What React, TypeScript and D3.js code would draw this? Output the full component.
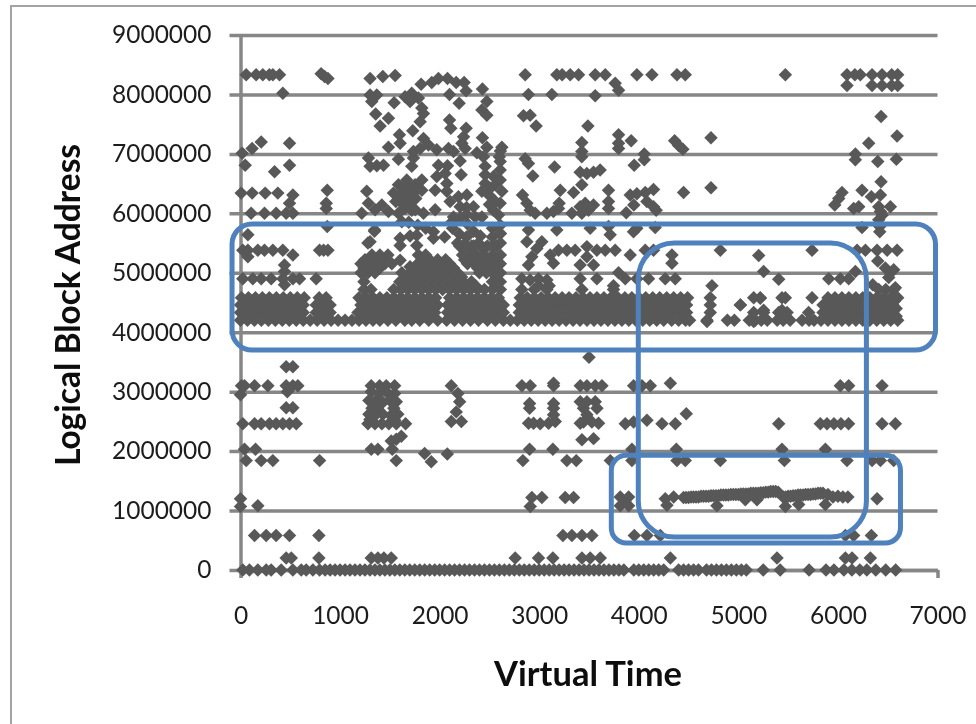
import React, { useEffect, useRef } from "react";
import * as d3 from "d3";

const yTicks = [0, 1, 2, 3, 4, 5, 6, 7, 8, 9].map(d => d * 1000000);
const xTicks = [0, 1000, 2000, 3000, 4000, 5000, 6000, 7000];

// repeated address levels, times
const at833 = [57, 157, 224, 290, 325, 392, 2859, 3177, 3230, 3311, 3395, 3562, 3663, 3981, 4132, 4383, 4467, 5472, 6091, 6170, 6225, 6343, 6443, 6540, 6600];
const at815 = [6091, 6343, 6443, 6540, 6600];
const at634 = [7, 117, 248, 375];
const at600 = [107, 241, 358, 459, 526];
const at538 = [23, 74, 174, 241, 325, 425, 794, 835, 878, 3194, 3278, 3361, 3579, 3663, 3763, 4065, 4148, 4819, 5740, 6192, 6276, 6393, 6494, 6594];
const at490 = [23, 124, 208, 308, 425, 526, 593, 760, 2825, 2993, 3411, 3579, 3864, 3981, 4098, 4266, 4366, 5907, 6024, 6108];
const at342 = [459, 526];
const at310 = [10, 40, 141, 275, 459, 526, 576, 1313, 1397, 1464, 1548, 2826, 2910, 3144, 3412, 3479, 3563, 3630, 3948, 4032, 4116, 6024, 6108, 6443];
const at273 = [459, 526];
const at246 = [23, 141, 208, 291, 358, 425, 492, 560, 1280, 1350, 1420, 1490, 1565, 1658, 3864, 4233, 4367, 5405, 5823, 5890, 5960, 6030, 6107, 6443, 6577];
const at203 = [40, 151, 1313, 1380, 2903, 3137, 3931, 4377, 5438, 5874];
const at184 = [57, 208, 325, 794, 1564, 2836, 3278, 3372, 3714, 3931, 4384, 4467, 4819, 5462, 6091, 6343, 6427, 6560];
const at058 = [141, 258, 358, 492, 787, 3238, 3328, 3429, 3529, 3955, 4082, 4216, 6075, 6158, 6336];
const at020 = [459, 510, 787, 1313, 1380, 1440, 1514, 2759, 2993, 3137, 3429, 3512, 3613, 4317, 5388, 6075, 6142, 6326];
const at000 = [23, 90, 174, 258, 308, 409, 526, 610, 660, 727, 794, 850, 900, 950, 1000, 1050, 1100, 1150, 1200, 1250, 1300, 1350, 1400, 1450, 1500, 1550, 1600, 1650, 1700, 1750, 1800, 1850, 1900, 1950, 2000, 2050, 2100, 2150, 2200, 2250, 2300, 2350, 2400, 2450, 2500, 2550, 2600, 2650, 2700, 2750, 2800, 2850, 2900, 2950, 3000, 3050, 3100, 3150, 3200, 3250, 3300, 3350, 3400, 3450, 3500, 3550, 3600, 3650, 3700, 3750, 3800, 3850, 3950, 4000, 4050, 4100, 4150, 4200, 4250, 4400, 4450, 4500, 4550, 4600, 4680, 4730, 4780, 4830, 4880, 4930, 4980, 5030, 5080, 5250, 5420, 5710, 5880, 5960, 6060, 6140, 6220, 6290, 6380, 6480, 6580];

// dense band just above 4000000
const at420 = [0, 70, 140, 210, 280, 350, 420, 490, 560, 630, 700, 770, 840, 910, 980, 1050, 1120, 1190, 1260, 1330, 1400, 1480, 1560, 1650, 1720, 1800, 1890, 1980, 2070, 2150, 2230, 2310, 2390, 2480, 2560, 2640, 2710, 2780, 2850, 2920, 2990, 3060, 3130, 3200, 3270, 3340, 3410, 3480, 3550, 3620, 3690, 3760, 3830, 3900, 3970, 4040, 4110, 4180, 4250, 4330, 4400, 4470, 4510, 4685, 4890, 4960, 5110, 5170, 5230, 5290, 5390, 5450, 5520, 5640, 5710, 5760, 5830, 5900, 5970, 6040, 6110, 6180, 6250, 6320, 6390, 6460, 6530, 6600];
const at433 = [0, 70, 140, 210, 280, 350, 420, 490, 560, 630, 760, 830, 900, 1180, 1250, 1320, 1390, 1460, 1530, 1600, 1670, 1740, 1810, 1880, 1950, 2080, 2150, 2220, 2290, 2360, 2430, 2500, 2570, 2640, 2800, 2870, 2940, 3010, 3080, 3150, 3220, 3290, 3360, 3430, 3500, 3570, 3640, 3710, 3780, 3850, 3920, 3990, 4060, 4130, 4200, 4270, 4340, 4410, 4480, 4718, 5154, 5254, 5405, 5490, 5706, 5850, 5920, 5990, 6060, 6130, 6200, 6270, 6340, 6410, 6480, 6550];
const at446 = [0, 70, 140, 210, 280, 350, 420, 490, 560, 630, 760, 830, 900, 1210, 1280, 1350, 1420, 1490, 1560, 1630, 1700, 1770, 1840, 1910, 1980, 2080, 2150, 2220, 2290, 2360, 2430, 2500, 2570, 2640, 2800, 2870, 2940, 3010, 3080, 3150, 3220, 3290, 3360, 3430, 3500, 3570, 3640, 3710, 3780, 3850, 3920, 3990, 4060, 4130, 4200, 4270, 4340, 4410, 4480, 4718, 5020, 5850, 5920, 5990, 6060, 6130, 6200, 6270, 6340, 6410, 6480, 6550];
const at458 = [10, 80, 150, 220, 290, 360, 430, 500, 570, 640, 790, 860, 1190, 1260, 1330, 1400, 1470, 1540, 1610, 1680, 1750, 1820, 1890, 1960, 2100, 2170, 2240, 2310, 2380, 2450, 2520, 2590, 2810, 2880, 2950, 3020, 3090, 3160, 3230, 3300, 3370, 3440, 3510, 3580, 3650, 3720, 3790, 3860, 3930, 4000, 4070, 4140, 4210, 4280, 4350, 4420, 4490, 4718, 5154, 5220, 5438, 5472, 5740, 5900, 5970, 6040, 6110, 6180, 6250, 6320, 6390, 6460, 6530, 6600];
const at427 = [35, 105, 175, 245, 315, 385, 455, 525, 595, 795, 865, 1215, 1285, 1355, 1425, 1495, 1565, 1635, 1705, 1775, 1845, 1915, 2115, 2185, 2255, 2325, 2395, 2465, 2535, 2605, 2835, 2905, 2975, 3045, 3115, 3185, 3255, 3325, 3395, 3465, 3535, 3605, 3675, 3745, 3815, 3885, 3955, 4025, 4095, 4165, 4235, 4305, 4375, 4445, 5885, 5955, 6025, 6095, 6165, 6235, 6305, 6375, 6445, 6515, 6585];
const at440 = [35, 105, 175, 245, 315, 385, 455, 525, 595, 795, 865, 1245, 1315, 1385, 1455, 1525, 1595, 1665, 1735, 1805, 1875, 1945, 2115, 2185, 2255, 2325, 2395, 2465, 2535, 2605, 2835, 2905, 2975, 3045, 3115, 3185, 3255, 3325, 3395, 3465, 3535, 3605, 3675, 3745, 3815, 3885, 3955, 4025, 4095, 4165, 4235, 4305, 4375, 4445, 5885, 5955, 6025, 6095, 6165, 6235, 6305, 6375, 6445, 6515, 6585];
const at452 = [45, 115, 185, 255, 325, 395, 465, 535, 605, 810, 1225, 1295, 1365, 1435, 1505, 1575, 1645, 1715, 1785, 1855, 1925, 2135, 2205, 2275, 2345, 2415, 2485, 2555, 2845, 2915, 2985, 3055, 3125, 3195, 3265, 3335, 3405, 3475, 3545, 3615, 3685, 3755, 3825, 3895, 3965, 4035, 4105, 4175, 4245, 4315, 4385, 4455, 5935, 6005, 6075, 6145, 6215, 6285, 6355, 6425, 6495, 6565];

// mound over the band around t = 2000
const at472 = [1240, 1310, 1540, 1610, 1680, 1750, 1820, 1890, 1960, 2030, 2100, 2170, 2240, 2310, 2380, 2450, 2530, 2610, 2825, 2950, 3077, 3430, 3746, 6410, 6480, 6560];
const at485 = [1240, 1600, 1680, 1760, 1840, 1920, 2000, 2080, 2160, 2240, 2320, 2530, 2610];
const at500 = [1210, 1280, 1350, 1620, 1700, 1780, 1860, 1940, 2020, 2100, 2180, 2400, 2470, 2530, 2610];
const at515 = [1210, 1290, 1370, 1450, 1520, 1780, 1860, 1940, 2020, 2100, 2280, 2350, 2420, 2530, 2610];
const at530 = [1320, 1400, 1480, 1787, 1860, 2230, 2300, 2370, 2440, 2530, 2610];
const at478 = [1640, 1720, 1800, 1880, 1960, 2040, 2120, 2200, 2280, 2360, 2570];
const at493 = [1660, 1740, 1820, 1900, 1980, 2060, 2140, 2220, 2570];
const at508 = [1240, 1320, 1400, 1740, 1820, 1900, 1980, 2060, 2140, 2380, 2450, 2570];
const at522 = [1250, 1350, 1440, 1820, 1900, 1980, 2060, 2250, 2320, 2390, 2460, 2570];
const at545 = [2200, 2270, 2340, 2410, 2480, 2570];

// points that do not sit on a row, [time, address in millions]
const scattered: [number, number][] = [
  [17, 7.01], [117, 7.09], [208, 7.2], [492, 7.18], [492, 6.81], [47, 6.81], [342, 6.7], [526, 6.31], [492, 6.17], [810, 8.35], [844, 8.3], [878, 8.27], [425, 8.02],
  [871, 6.39], [861, 6.17], [861, 6.08], [871, 5.78], [74, 5.64], [526, 5.3], [74, 5.27], [442, 5.13], [442, 5.02], [442, 4.8], [1347, 5.72], [1280, 5.5],
  [1301, 8.27], [1429, 8.3], [1553, 8.32], [1814, 8.17], [1921, 8.2], [1988, 8.27], [2079, 8.27], [2166, 8.2], [2246, 8.2], [2266, 8.06], [2430, 8.09], [2099, 8.0], [2196, 7.85],
  [1301, 7.99], [1369, 7.99], [1318, 7.88], [1543, 7.86], [1653, 7.96], [1720, 8.02], [1787, 7.94], [1703, 7.88], [1821, 7.77], [1837, 7.68], [1804, 7.54], [1358, 7.67], [1486, 7.6], [1402, 7.47], [2474, 7.88], [2424, 7.74], [2474, 7.65],
  [2099, 7.57], [2112, 7.43], [2266, 7.43], [1730, 7.39], [1596, 7.32], [1603, 7.18], [1486, 7.11], [1838, 7.26], [1888, 7.15], [1971, 7.07], [2089, 7.09], [2139, 7.04], [2240, 7.29], [2223, 7.18], [2256, 7.09], [2430, 7.27], [2474, 7.11], [2374, 7.02], [2625, 7.11], [2440, 6.95],
  [1285, 6.93], [1586, 6.91], [1737, 7.04], [1804, 7.09], [1737, 6.93], [1720, 6.79], [1301, 6.79], [1369, 6.8], [1436, 6.81], [2206, 6.88], [2216, 6.65], [1988, 6.81], [2079, 6.8], [1971, 6.62], [2055, 6.67], [2072, 6.5], [2072, 6.37],
  [2457, 6.79], [2457, 6.65], [2457, 6.5], [2608, 6.87], [2608, 6.73], [2541, 6.62], [2608, 6.56], [2508, 6.42], [2424, 6.37], [2625, 6.37], [2558, 6.48],
  [1670, 6.56], [1586, 6.48], [1754, 6.48], [1536, 6.34], [1636, 6.37], [1737, 6.34], [1821, 6.56], [1821, 6.39], [1955, 6.39], [1640, 6.45], [1700, 6.42], [1620, 6.28], [1690, 6.25], [1760, 6.25], [1560, 6.2], [1650, 6.08], [1720, 6.05],
  [1268, 6.37], [1285, 6.17], [1419, 6.14], [1352, 6.06], [1218, 6.0], [1486, 6.03], [1620, 6.17], [1586, 6.0], [1703, 6.17], [1754, 6.06], [1838, 6.0], [1955, 6.06], [2270, 6.1], [2270, 5.98], [2500, 6.3], [2500, 6.15], [2560, 6.2], [2540, 6.05],
  [2105, 6.2], [2189, 6.28], [2273, 6.31], [2340, 6.11], [2206, 6.11], [2139, 5.94], [2206, 5.92], [2357, 5.94], [2424, 5.94], [2608, 6.17], [2591, 5.97],
  [1301, 5.52], [1603, 5.58], [1603, 5.46], [1770, 5.63], [1770, 5.46], [1703, 5.62], [1620, 5.86], [1690, 5.85], [1938, 5.69], [1938, 5.58], [1860, 5.75], [1780, 5.8], [2130, 5.75], [2200, 5.65], [2270, 5.6], [2340, 5.7], [2410, 5.62], [2180, 5.5], [2250, 5.48], [2320, 5.45], [2390, 5.5], [2460, 5.42], [2530, 5.45], [2610, 5.5], [2530, 5.6], [2610, 5.66], [2530, 5.75], [2610, 5.8], [2120, 5.85], [2280, 5.82], [2050, 5.6], [1603, 5.21], [1703, 5.1], [1345, 5.7],
  [2892, 8.0], [3127, 8.0], [3562, 7.98], [3797, 8.07], [3763, 8.19], [2842, 7.64], [2909, 7.65], [2969, 7.47], [3489, 7.47], [3797, 7.32], [3797, 7.18], [3797, 7.09], [3924, 7.22], [3428, 7.19], [3428, 7.04], [3428, 6.95], [4055, 7.0], [4055, 6.9], [3954, 6.81], [4360, 7.22], [4400, 7.14], [4443, 7.08], [4725, 7.27], [4725, 6.43], [4450, 6.35],
  [6433, 7.63], [6309, 7.18], [6594, 7.3], [6175, 7.0], [6175, 6.9], [6400, 6.87], [6587, 6.91], [6433, 6.53], [6242, 6.39], [6336, 6.28], [6427, 6.31], [6041, 6.35], [6008, 6.25], [5968, 6.14], [6209, 6.11], [6158, 6.08], [6410, 6.11], [6527, 6.11], [6427, 6.03], [6445, 5.97], [6410, 5.89], [6242, 5.76], [6420, 5.69], [6420, 5.78],
  [2600, 6.95], [2610, 7.05], [2859, 6.92], [2892, 6.84], [2936, 6.63], [3154, 6.78], [3211, 6.39], [3345, 6.35], [3428, 6.48], [3411, 6.69], [3478, 6.67], [3545, 6.69], [3612, 6.73], [3696, 6.39], [3914, 6.31], [3981, 6.33], [4065, 6.35], [4148, 6.4], [3950, 6.14], [4081, 6.2], [4148, 6.11], [4175, 6.05], [2832, 6.31], [2876, 6.17], [2909, 6.05], [2959, 6.0], [3077, 6.0], [3143, 6.03], [3200, 6.17], [3194, 6.08], [3328, 6.0], [3411, 6.11], [3462, 6.17], [3545, 6.14], [3495, 6.05], [3428, 6.0], [3696, 6.2], [3696, 6.08], [3874, 6.01],
  [2892, 5.72], [2876, 5.52], [3177, 5.72], [3512, 5.75], [3713, 5.64], [3696, 5.78], [3947, 5.69], [3980, 5.75], [4165, 5.76], [2608, 5.66], [3110, 5.3], [3479, 5.44], [3914, 5.3], [4333, 5.3], [5204, 5.29], [3026, 5.52], [2976, 5.41], [2926, 5.27], [2892, 5.13], [3143, 5.16], [3479, 5.27], [3411, 5.13], [3545, 5.13], [4333, 5.16], [5254, 5.02], [5405, 4.89], [4735, 4.78], [2909, 4.88], [3077, 4.88], [3746, 4.78], [3797, 5.0], [6175, 5.02], [6476, 5.08], [6560, 5.05], [6510, 4.92], [6400, 5.2], [6350, 4.8], [6577, 4.75], [2993, 4.78], [3100, 4.78], [4685, 4.18], [5220, 4.57],
  [5020, 4.46], [5254, 4.37], [5154, 4.18], [5438, 4.37],
  [0, 2.95], [470, 3.0], [1313, 3.0], [1397, 2.98], [1464, 3.0], [1548, 2.97], [1290, 2.85], [1360, 2.85], [1430, 2.82], [1500, 2.85], [1565, 2.83], [1320, 2.72], [1380, 2.7], [1540, 2.72], [1290, 2.62], [1350, 2.6], [1430, 2.62], [1510, 2.6], [1580, 2.62], [1300, 2.53], [1550, 2.52],
  [1524, 2.03], [1514, 2.17], [1615, 2.25], [1849, 1.96], [1916, 1.82], [2077, 1.95], [2117, 3.1], [2184, 2.97], [2201, 2.83], [2167, 2.66], [2117, 2.5], [2218, 2.5], [1565, 2.2],
  [0, 1.2], [0, 1.07], [174, 1.08],
  [2903, 2.8], [2903, 2.72], [3144, 2.8], [3144, 2.72], [3144, 2.61], [2893, 2.47], [2943, 2.47], [3010, 2.46], [3094, 2.47], [3161, 2.5],
  [3412, 2.83], [3479, 2.83], [3563, 2.83], [3445, 2.72], [3580, 2.72], [3479, 2.61], [3445, 2.49], [3529, 2.49], [3596, 2.47], [3412, 2.47], [3429, 2.19], [3546, 2.21], [3948, 2.49], [4082, 2.52], [4477, 2.63], [3500, 3.58], [3144, 3.14], [4317, 3.14],
  [2926, 1.22], [3027, 1.22], [2910, 1.07], [3261, 1.22], [3345, 1.22], [3814, 1.23], [3898, 1.23], [3814, 1.08], [3898, 1.08], [3860, 1.15], [4266, 1.2], [4350, 1.23], [4283, 1.09], [4785, 1.08], [5070, 1.18], [5187, 1.18], [5472, 1.07], [5606, 1.1], [5874, 1.1], [6393, 1.2],
];

// the nearly flat run through the lower boxes
const runTimes = [4450, 4475, 4500, 4525, 4550, 4575, 4600, 4625, 4650, 4675, 4700, 4725, 4750, 4775, 4800, 4825, 4850, 4875, 4900, 4925, 4950, 4975, 5000, 5025, 5050, 5075, 5100, 5125, 5150, 5175, 5200, 5225, 5250, 5275, 5300, 5325, 5350, 5375, 5400, 5450, 5475, 5500, 5525, 5550, 5575, 5600, 5625, 5650, 5675, 5700, 5725, 5750, 5775, 5800, 5825, 5850, 5900, 5950, 6000, 6050, 6100];
const runAddress = [1.22, 1.22, 1.22, 1.23, 1.23, 1.23, 1.23, 1.24, 1.24, 1.24, 1.24, 1.25, 1.25, 1.25, 1.25, 1.26, 1.26, 1.26, 1.26, 1.27, 1.27, 1.27, 1.27, 1.28, 1.28, 1.28, 1.28, 1.29, 1.29, 1.29, 1.29, 1.3, 1.3, 1.31, 1.31, 1.32, 1.32, 1.32, 1.31, 1.23, 1.23, 1.24, 1.24, 1.25, 1.25, 1.26, 1.26, 1.26, 1.27, 1.27, 1.27, 1.28, 1.28, 1.29, 1.29, 1.29, 1.27, 1.23, 1.24, 1.23, 1.23];

const rows: [number, number[]][] = [
  [8.33, at833], [8.15, at815], [6.34, at634], [6.0, at600], [5.38, at538], [4.9, at490], [3.42, at342], [3.1, at310], [2.73, at273], [2.46, at246], [2.03, at203], [1.84, at184], [0.58, at058], [0.2, at020], [0, at000],
  [4.2, at420], [4.33, at433], [4.46, at446], [4.58, at458], [4.27, at427], [4.4, at440], [4.52, at452], [4.72, at472], [4.85, at485], [5.0, at500], [5.15, at515], [5.3, at530], [4.78, at478], [4.93, at493], [5.08, at508], [5.22, at522], [5.45, at545],
];

// rounded boxes: time from, time to, address top, address bottom, corner radius
const boxes = [
  [-85, 6980, 5.82, 3.7, 20],
  [3995, 6286, 5.5, 0.555, 36],
  [3724, 6628, 1.93, 0.454, 15],
];

const App = () => {
  const svgRef = useRef<SVGSVGElement | null>(null);

  useEffect(() => {
    const svg = d3.select(svgRef.current);
    svg.selectAll("*").remove();

    const x = d3.scaleLinear().domain([0, 7000]).range([240.5, 937.5]);
    const y = d3.scaleLinear().domain([0, 9000000]).range([570, 35]);

    const points: [number, number][] = [
      ...rows.flatMap(([lba, times]) => times.map(t => [t, lba] as [number, number])),
      ...scattered,
      ...runTimes.map((t, i) => [t, runAddress[i]] as [number, number]),
    ];

    svg.append("defs").append("filter").attr("id", "soft")
      .append("feGaussianBlur").attr("stdDeviation", 0.5);

    const root = svg.append("g").attr("filter", "url(#soft)");

    // picture frame, open at the right and bottom
    root.append("path")
      .attr("d", d3.line()([[976, 6], [11, 6], [11, 724]]))
      .attr("fill", "none").attr("stroke", "#a3a3a3").attr("stroke-width", 2);

    // y axis carries the gridlines
    const yAxis = d3.axisLeft(y).tickValues(yTicks).tickSizeInner(-697).tickSizeOuter(0).tickPadding(29).tickFormat(d3.format("d"));
    const yG = root.append("g").attr("transform", `translate(${x(0)},0)`).call(yAxis);
    yG.selectAll(".tick line").attr("x1", -11).attr("stroke", "#868686").attr("stroke-width", 3.5);
    yG.select(".domain").attr("stroke", "#868686").attr("stroke-width", 3.5);

    const xAxis = d3.axisBottom(x).tickValues(xTicks).tickSizeInner(8).tickSizeOuter(0).tickPadding(26).tickFormat(d3.format("d"));
    const xG = root.append("g").attr("transform", `translate(0,${y(0)})`).call(xAxis);
    xG.selectAll(".tick line").attr("stroke", "#868686").attr("stroke-width", 3.5)
      .attr("display", d => (d === 0 || d === 7000 ? null : "none"));
    xG.select(".domain").attr("stroke", "#868686").attr("stroke-width", 3.5);

    root.selectAll(".tick text")
      .attr("font-family", "Lato").attr("font-size", 24.5).attr("fill", "#1c1c1c");
    xG.selectAll(".tick text").attr("dy", "0.32em").attr("y", 46);

    // markers
    const diamond = d3.symbol(d3.symbolDiamond2, 116)();
    root.append("g").selectAll("path").data(points).join("path")
      .attr("d", diamond)
      .attr("transform", d => `translate(${x(d[0])},${y(d[1] * 1000000)})`)
      .attr("fill", "#595959");

    // highlighted regions
    root.append("g").selectAll("rect").data(boxes).join("rect")
      .attr("x", d => x(d[0]))
      .attr("y", d => y(d[2] * 1000000))
      .attr("width", d => x(d[1]) - x(d[0]))
      .attr("height", d => y(d[3] * 1000000) - y(d[2] * 1000000))
      .attr("rx", d => d[4])
      .attr("fill", "none").attr("stroke", "#4f81bd").attr("stroke-width", 5);

    // axis titles
    root.append("text").text("Virtual Time")
      .attr("x", 588).attr("y", 686).attr("text-anchor", "middle")
      .attr("font-family", "Lato").attr("font-weight", 700).attr("font-size", 34.5).attr("fill", "#0a0a0a");
    root.append("text").text("Logical Block Address")
      .attr("transform", "translate(80,305) rotate(-90)").attr("text-anchor", "middle")
      .attr("font-family", "Lato").attr("font-weight", 700).attr("font-size", 33.5).attr("fill", "#0a0a0a");
  }, []);

  return <svg ref={svgRef} width={976} height={724} style={{ position: "absolute", left: 0, top: 0, background: "#fff" }} />;
};

export default App;
